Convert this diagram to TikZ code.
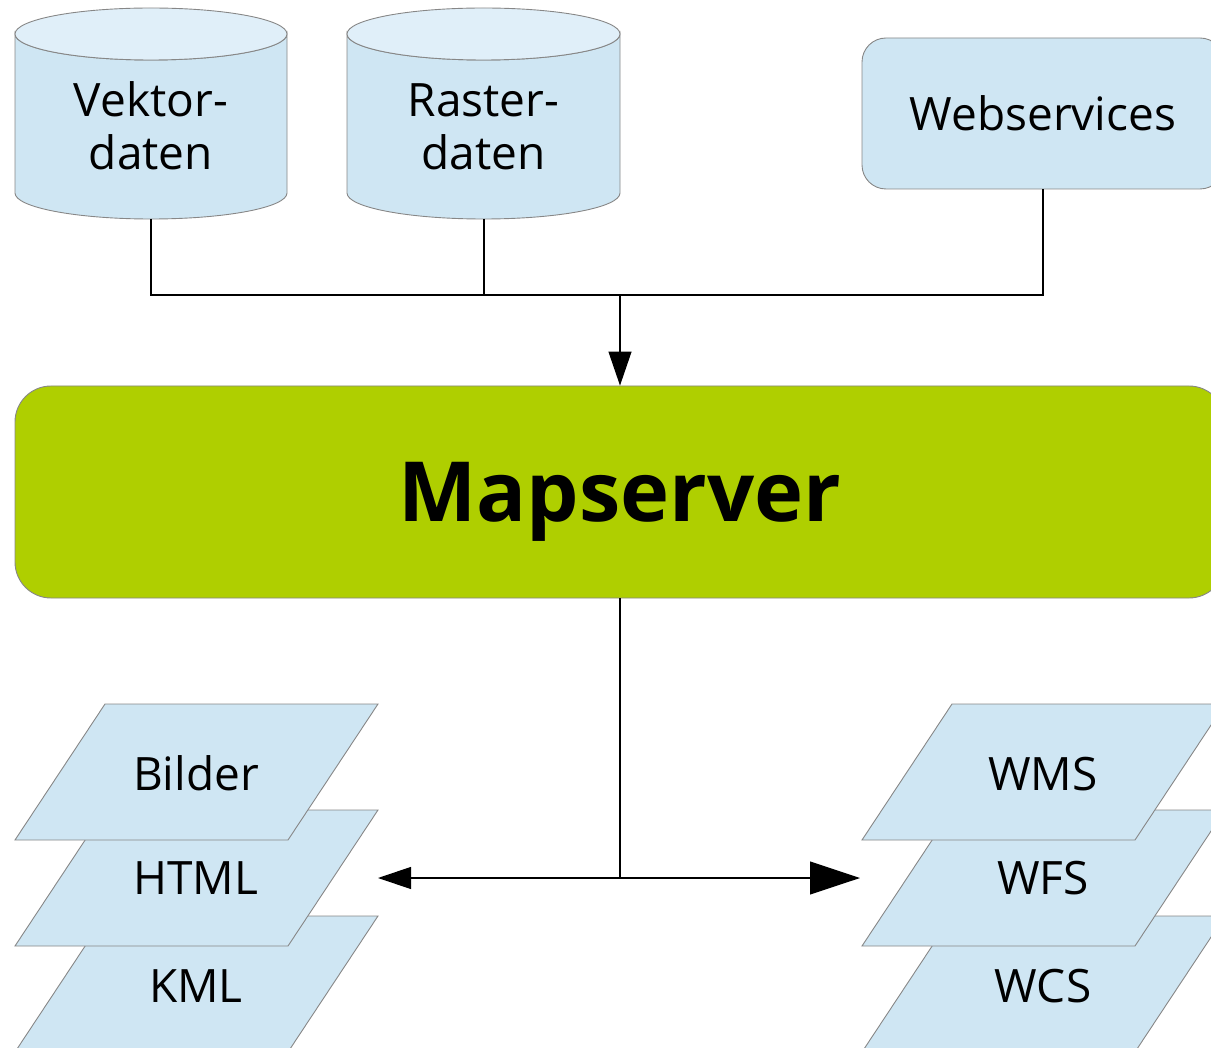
\documentclass[tikz,border=0pt]{standalone}
\usepackage{fontspec}
\setmainfont{Open Sans}
\usepackage{tikz}
\usetikzlibrary{arrows.meta}

\definecolor{hellblau}{RGB}{207,230,243}
\definecolor{deckelblau}{RGB}{224,239,249}
\definecolor{gruen}{RGB}{175,207,0}
\definecolor{randgrau}{RGB}{135,135,135}

\begin{document}
\begin{tikzpicture}[x=1pt,y=-1pt,
	flaeche/.style={fill=hellblau,draw=randgrau,line width=0.9pt},
	schrift/.style={font=\fontsize{46}{53}\selectfont,align=center,inner sep=0pt},
	linie/.style={draw=black,line width=1.2pt}]
	\clip (0,0) rectangle (1211,1048);
	% Datenbanken oben
	\path[flaeche] (15,34) -- (15,193) arc[start angle=180,end angle=0,x radius=136,y radius=26] -- (287,34) arc[start angle=0,end angle=180,x radius=136,y radius=26] -- cycle;
	\path[flaeche,fill=deckelblau] (151,34) ellipse[x radius=136,y radius=26];
	\path[flaeche] (347,34) -- (347,193) arc[start angle=180,end angle=0,x radius=136.5,y radius=26] -- (620,34) arc[start angle=0,end angle=180,x radius=136.5,y radius=26] -- cycle;
	\path[flaeche,fill=deckelblau] (483.5,34) ellipse[x radius=136.5,y radius=26];
	\node[schrift,anchor=base] at (151,170) (vektor) {Vektor-\\daten};
	\node[schrift,anchor=base] at (483.5,170) (raster) {Raster-\\daten};
	\coordinate (vektor-unten) at (151,219);
	\coordinate (raster-unten) at (484,219);
	\node[flaeche,schrift,rounded corners=24pt,minimum width=362,minimum height=151] at (1043,113.5) (web) {Webservices};
	\node[flaeche,draw=randgrau,fill=gruen,rounded corners=36pt,minimum width=1210,minimum height=212,text depth=0pt,
		font=\fontsize{83}{90}\selectfont\bfseries] at (620,492) (map) {Mapserver};
	% Ausgaben links
	\path[flaeche] (15,1052) -- (288,1052) -- (378,916) -- (105,916) -- cycle;
	\node[schrift,anchor=base] at (196,1002) (kml) {KML};
	\path[flaeche] (15,946) -- (288,946) -- (378,810) -- (105,810) -- cycle;
	\node[schrift,anchor=base] at (196,894) (html) {HTML};
	\path[flaeche] (15,840) -- (288,840) -- (378,704) -- (105,704) -- cycle;
	\node[schrift,anchor=base] at (196,790) (bilder) {Bilder};
	% Ausgaben rechts
	\path[flaeche] (862,1052) -- (1135,1052) -- (1225,916) -- (952,916) -- cycle;
	\node[schrift,anchor=base] at (1043,1002) (wcs) {WCS};
	\path[flaeche] (862,946) -- (1135,946) -- (1225,810) -- (952,810) -- cycle;
	\node[schrift,anchor=base] at (1043,894) (wfs) {WFS};
	\path[flaeche] (862,840) -- (1135,840) -- (1225,704) -- (952,704) -- cycle;
	\node[schrift,anchor=base] at (1043,790) (wms) {WMS};
	% Verbindungen
	\coordinate (sammel) at (620,295);
	\coordinate (verteiler) at (620,878);
	\coordinate (links) at (378,878);
	\coordinate (rechts) at (860,878);
	\path[linie] (vektor-unten) |- (sammel);
	\path[linie] (raster-unten) |- (sammel);
	\path[linie] (web.south) |- (sammel);
	\path[linie,-{Triangle[length=34pt,width=23pt]}] (sammel) -- (map.north);
	\path[linie] (map.south) -- (verteiler);
	\path[linie,-{Triangle[length=33pt,width=22pt]}] (verteiler) -- (links);
	\path[linie,-{Triangle[length=50pt,width=33pt]}] (verteiler) -- (rechts);
\end{tikzpicture}
\end{document}
